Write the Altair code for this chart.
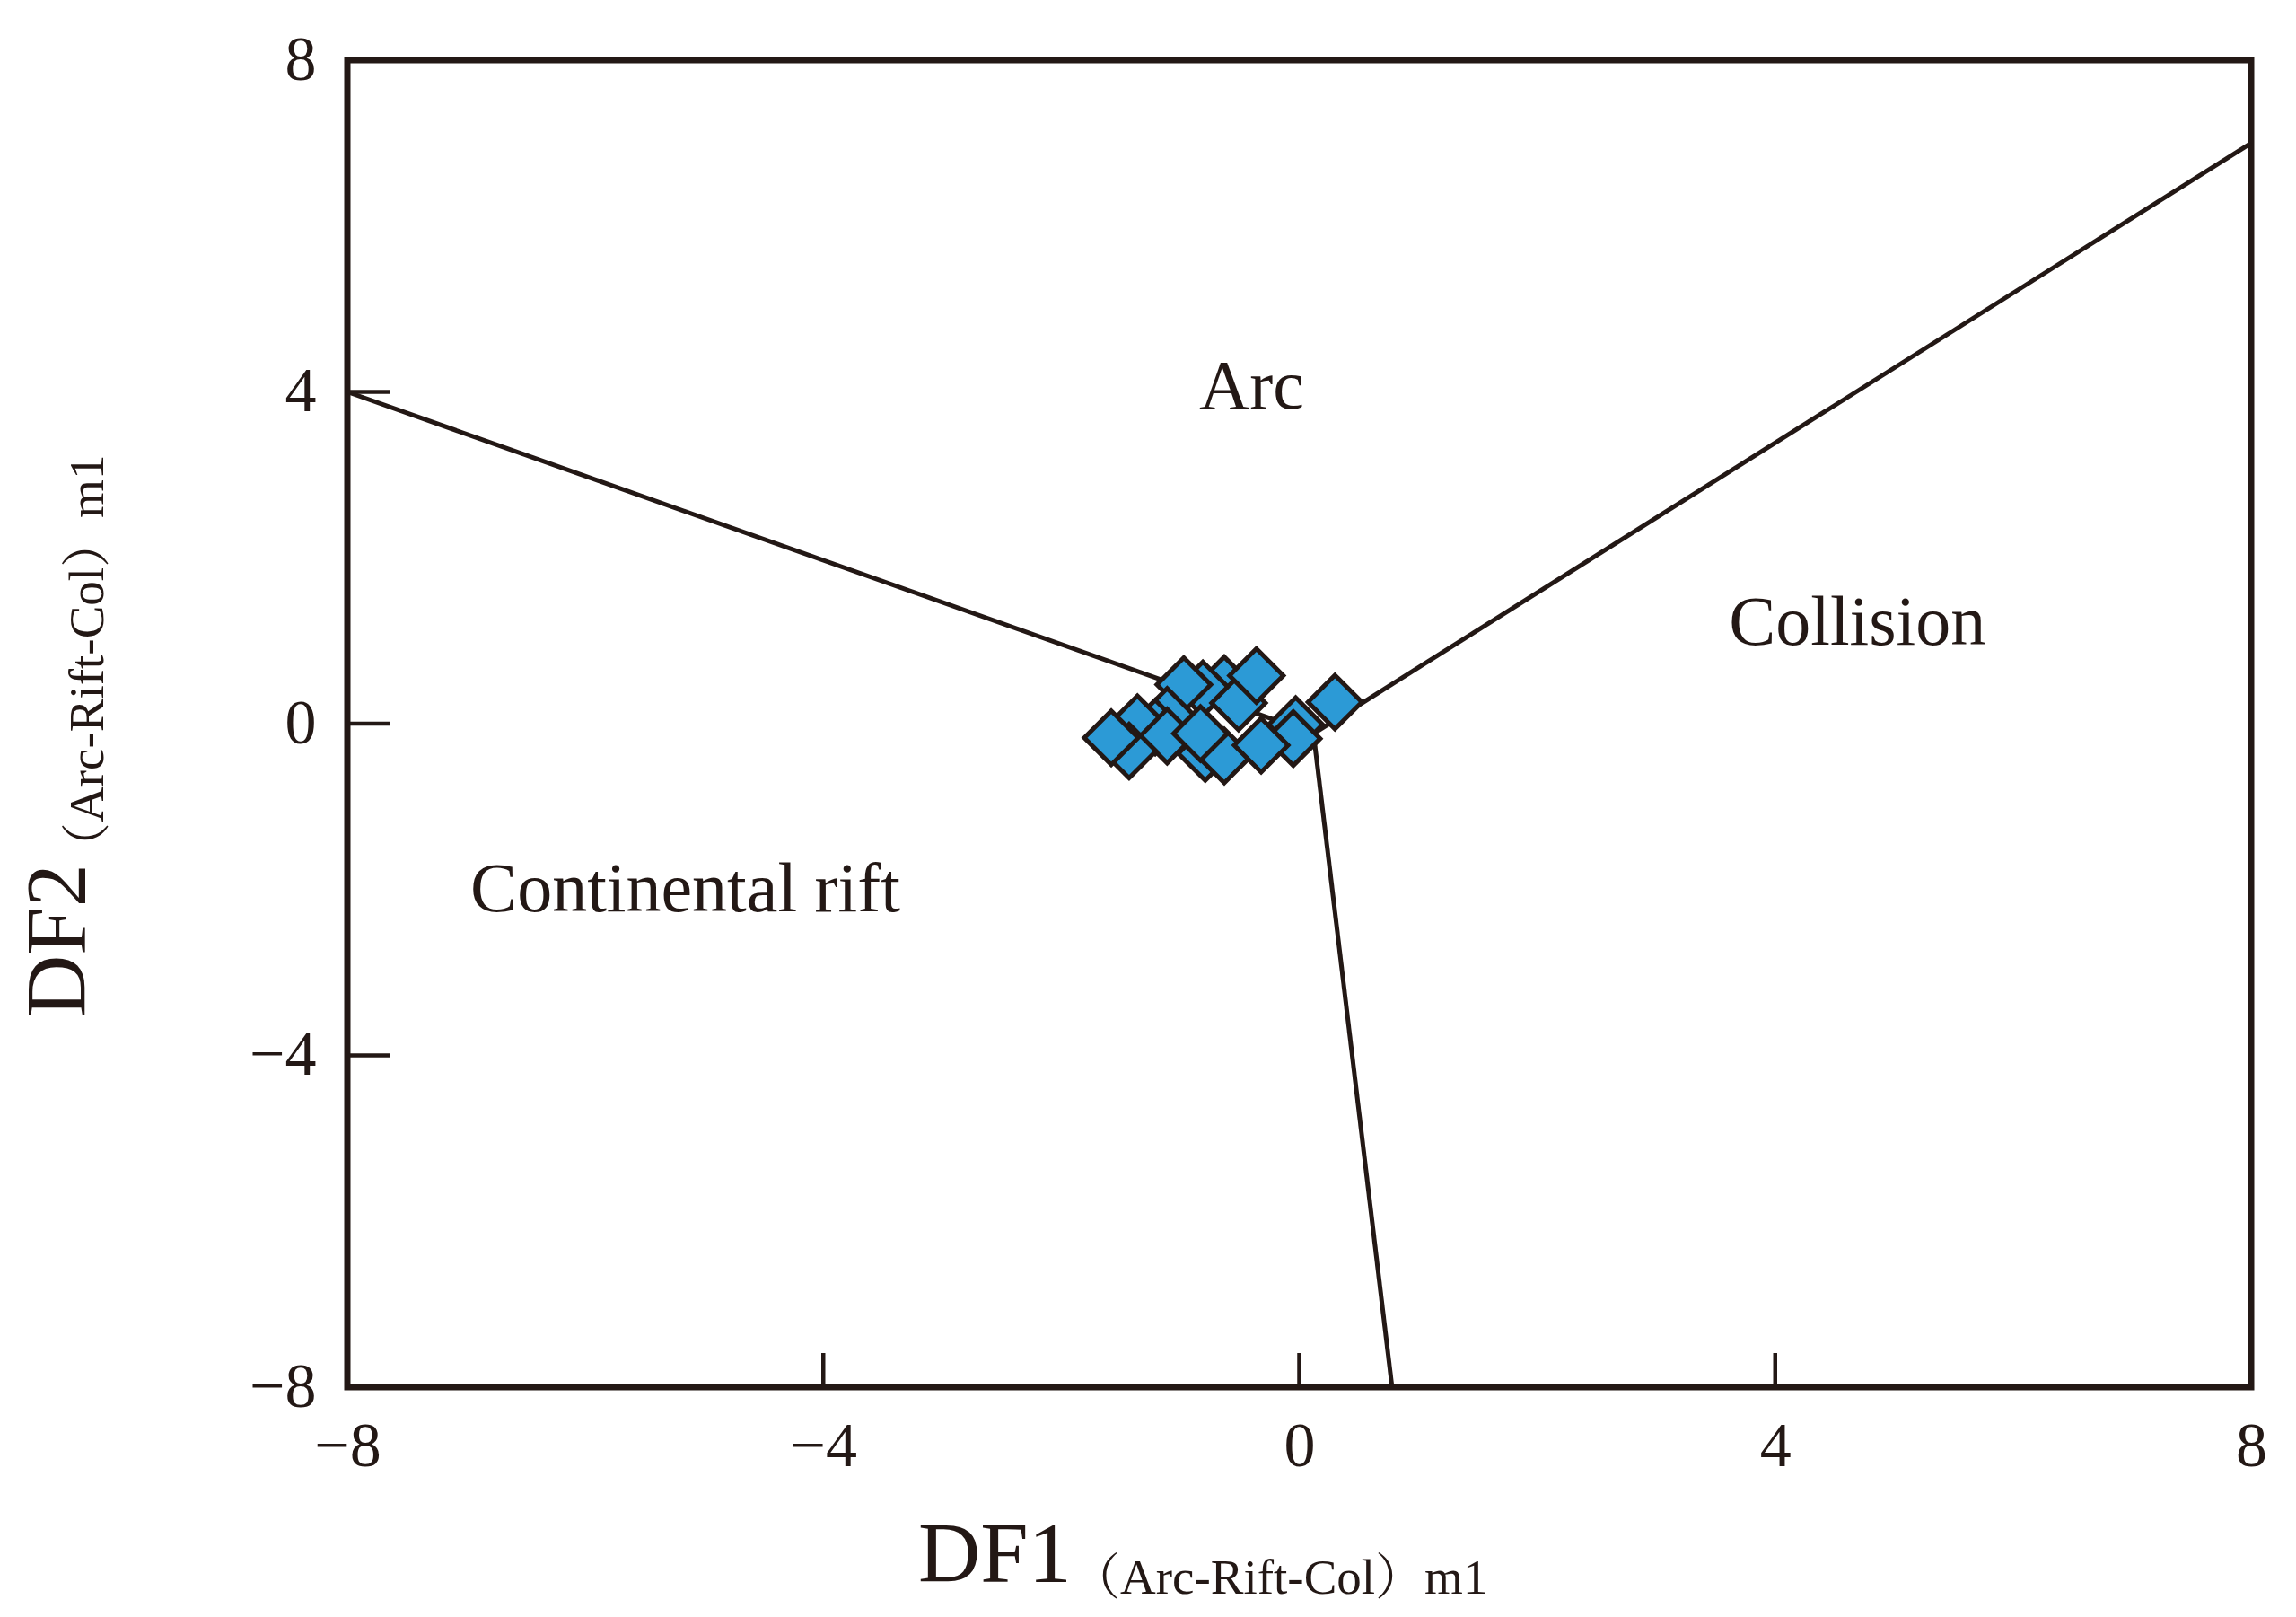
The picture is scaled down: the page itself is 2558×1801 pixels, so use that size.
import altair as alt
import pandas as pd

# ---- sample points (DF1, DF2), drawn back-to-front ----
df1_vals = [-0.63, -0.81, -0.97, -0.51, -1.11, -1.21, -1.36, -1.11, -1.43, -0.79,
            -0.63, -0.03, -0.05, -0.83, -1.58, -0.32, -0.36, 0.30]
df2_vals = [0.48, 0.42, 0.47, 0.25, 0.10, -0.04, 0.01, -0.15, -0.33, -0.36,
            -0.39, -0.01, -0.18, -0.12, -0.17, -0.26, 0.58, 0.26]

# ---- field boundaries ----
bnd_x1 = [-8.0, 0.12, 0.12]
bnd_y1 = [4.0, -0.12, -0.12]
bnd_x2 = [0.12, 8.0, 0.78]
bnd_y2 = [-0.12, 7.0, -8.0]

# ---- field labels ----
field_names = ["Arc", "Collision", "Continental rift"]
field_x = [-0.40, 4.69, -5.16]
field_y = [4.05, 1.20, -2.01]

# ---- axes ----
tick_values = [-8, -4, 0, 4, 8]
inner_ticks = [-4, 0, 4]
axis_min = -8

INK = "#231815"
SERIF = "Liberation Serif"
W, H = 2121, 1478
TICK_LEN_X = 38 / (H / 16)   # inward tick length in data units (x axis)
TICK_LEN_Y = 48 / (W / 16)   # inward tick length in data units (y axis)

pts = pd.DataFrame({"DF1": df1_vals, "DF2": df2_vals, "z": list(range(len(df1_vals)))})
bnd = pd.DataFrame({"x1": bnd_x1, "y1": bnd_y1, "x2": bnd_x2, "y2": bnd_y2})
fields = pd.DataFrame({"name": field_names, "x": field_x, "y": field_y})
xt = pd.DataFrame({"x": inner_ticks, "y1": [axis_min] * 3, "y2": [axis_min + TICK_LEN_X] * 3})
yt = pd.DataFrame({"y": inner_ticks, "x1": [axis_min] * 3, "x2": [axis_min + TICK_LEN_Y] * 3})

xscale = alt.Scale(domain=[-8, 8], nice=False, zero=False)
yscale = alt.Scale(domain=[-8, 8], nice=False, zero=False)

xaxis = alt.Axis(values=tick_values, format="d", ticks=False, tickSize=0, domain=False, grid=False,
                 labelFont=SERIF, labelFontSize=70, labelColor=INK, labelPadding=32,
                 labelFlush=False, labelOverlap=False, title=None)
yaxis = alt.Axis(values=tick_values, format="d", ticks=False, tickSize=0, domain=False, grid=False,
                 labelFont=SERIF, labelFontSize=70, labelColor=INK, labelPadding=35,
                 labelFlush=False, labelOverlap=False, title=None)

base_points = alt.Chart(pts).mark_point(
    shape="diamond", filled=True, size=3600, color="#2C9AD6",
    stroke=INK, strokeWidth=5, opacity=1, fillOpacity=1
).encode(
    x=alt.X("DF1:Q", scale=xscale, axis=xaxis),
    y=alt.Y("DF2:Q", scale=yscale, axis=yaxis),
    order="z:Q",
)

lines = alt.Chart(bnd).mark_rule(color=INK, strokeWidth=5).encode(
    x="x1:Q", y="y1:Q", x2="x2:Q", y2="y2:Q"
)

xticks = alt.Chart(xt).mark_rule(color=INK, strokeWidth=4.5).encode(
    x="x:Q", y="y1:Q", y2="y2:Q"
)
yticks = alt.Chart(yt).mark_rule(color=INK, strokeWidth=4.5).encode(
    y="y:Q", x="x1:Q", x2="x2:Q"
)

field_text = alt.Chart(fields).mark_text(
    font=SERIF, fontSize=78, color=INK, align="center", baseline="middle"
).encode(x="x:Q", y="y:Q", text="name:N")

title_font = "Liberation Serif, Noto Serif CJK SC, Noto Sans CJK SC"
x_title = alt.Chart(pd.DataFrame({"t": ["DF1"]})).mark_text(
    font=SERIF, fontSize=96, color=INK, align="left", baseline="alphabetic"
).encode(x=alt.value(636), y=alt.value(1695), text="t:N")
x_sub = alt.Chart(pd.DataFrame({"t": ["（Arc-Rift-Col）m1"]})).mark_text(
    font=title_font, fontSize=55, color=INK, align="left", baseline="alphabetic"
).encode(x=alt.value(806), y=alt.value(1708), text="t:N")
y_title = alt.Chart(pd.DataFrame({"t": ["DF2"]})).mark_text(
    font=SERIF, fontSize=96, color=INK, align="left", baseline="alphabetic", angle=270
).encode(x=alt.value(-292), y=alt.value(1066), text="t:N")
y_sub = alt.Chart(pd.DataFrame({"t": ["（Arc-Rift-Col）m1"]})).mark_text(
    font=title_font, fontSize=55, color=INK, align="left", baseline="alphabetic", angle=270
).encode(x=alt.value(-272), y=alt.value(904), text="t:N")

chart = alt.layer(
    lines, xticks, yticks, field_text, base_points, x_title, x_sub, y_title, y_sub
).properties(
    width=W, height=H,
    autosize=alt.AutoSizeParams(type="none"),
    padding={"left": 379, "top": 59, "right": 42, "bottom": 248},
    background="white",
).configure_view(
    stroke=INK, strokeWidth=7
)

chart.save("out.html", embed_options={"renderer": "svg", "actions": False})
